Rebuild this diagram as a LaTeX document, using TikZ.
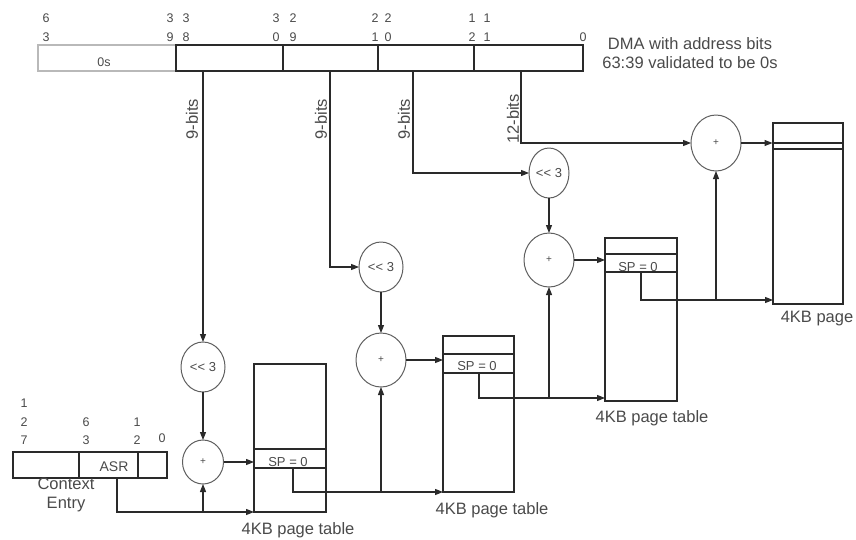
\documentclass[tikz,border=0pt]{standalone}
\usepackage{fontspec}
\setmainfont{Liberation Sans}
\usetikzlibrary{shapes.geometric,arrows.meta}
\definecolor{ln}{HTML}{2A2A2A}
\definecolor{tx}{HTML}{4A4A4A}
\begin{document}
\begin{tikzpicture}[
  x=1pt, y=-1pt,
  lnk/.style={draw=ln, line width=1.1pt},
  arr/.style={lnk, -{Triangle[length=8pt,width=6pt]}},
  fld/.style={draw=ln, line width=1.1pt, rectangle, inner sep=0pt, outer sep=0pt},
  circ/.style={draw=ln!75, line width=1pt, ellipse, inner sep=0pt, outer sep=0pt, text=tx, font=\fontsize{13}{15}\selectfont},
  plus/.style={circ, font=\fontsize{10}{12}\selectfont},
  dig/.style={text=tx, font=\fontsize{12.5}{14}\selectfont, inner sep=0pt},
  lbl/.style={text=tx, font=\fontsize{16.5}{19.5}\selectfont, inner sep=0pt},
  rowtxt/.style={text=tx, font=\fontsize{13}{15}\selectfont}
]
\useasboundingbox (0,0) rectangle (856,539);

% ---------- address bar ----------
\node[fld, draw=gray!55, minimum width=138pt, minimum height=26pt] (zeros) at (107,58) {};
\node[dig] (ztxt) at (104,62) {0s};
\node[fld, minimum width=107pt, minimum height=26pt] (f1) at (229.5,58) {};
\node[fld, minimum width=95pt, minimum height=26pt] (f2) at (330.5,58) {};
\node[fld, minimum width=96pt, minimum height=26pt] (f3) at (426,58) {};
\node[fld, minimum width=109pt, minimum height=26pt] (f4) at (528.5,58) {};

% bit numbers
\foreach \n/\x/\a/\b in {a/46/6/3, b/170/3/9, c/186/3/8, d/276/3/0, e/293/2/9, f/375/2/1, g/388/2/0, h/472/1/2, i/487/1/1}{
  \node[dig] (bu\n) at (\x,18) {\a};
  \node[dig] (bl\n) at (\x,37) {\b};
}
\node[dig] (blz) at (583,37) {0};

\node[lbl, align=center] (dma) at (690,53) {DMA with address bits\\63:39 validated to be 0s};

% start points on the bar
\coordinate (s1) at (203,71);
\coordinate (s2) at (330,71);
\coordinate (s3) at (413,71);
\coordinate (s4) at (521,71);

\node[lbl, rotate=90] (l1) at (192,119) {9-bits};
\node[lbl, rotate=90] (l2) at (321,119) {9-bits};
\node[lbl, rotate=90] (l3) at (404,119) {9-bits};
\node[lbl, rotate=90] (l4) at (513,119) {12-bits};

% ---------- circles ----------
\node[circ, minimum width=44pt, minimum height=50pt] (sh1) at (203,367) {{<}{<} 3};
\node[plus, minimum width=41pt, minimum height=44pt] (pl1) at (203,462) {+};
\node[circ, minimum width=44pt, minimum height=50pt] (sh2) at (381,267) {{<}{<} 3};
\node[plus, minimum width=50pt, minimum height=54pt] (pl2) at (381,360) {+};
\node[circ, minimum width=40pt, minimum height=50pt] (sh3) at (549,173) {{<}{<} 3};
\node[plus, minimum width=50pt, minimum height=54pt] (pl3) at (549,260) {+};
\node[plus, minimum width=50pt, minimum height=56pt] (pl4) at (716,143) {+};

% ---------- context entry ----------
\node[fld, minimum width=66pt, minimum height=26pt] (c1) at (46,465) {};
\node[fld, minimum width=59pt, minimum height=26pt] (asr) at (108.5,465) {};
\node[rowtxt, inner sep=0pt, font=\fontsize{14}{16}\selectfont] (asrt) at (114,467) {ASR};
\node[fld, minimum width=29pt, minimum height=26pt] (c3) at (152.5,465) {};
\node[dig] (ca) at (24,403) {1};
\node[dig] (cb) at (24,422) {2};
\node[dig] (cc) at (24,440) {7};
\node[dig] (cd) at (86,422) {6};
\node[dig] (ce) at (86,440) {3};
\node[dig] (cf) at (137,422) {1};
\node[dig] (cg) at (137,440) {2};
\node[dig] (ch) at (162,438) {0};
\node[lbl, align=center] (ctxl) at (66,495) {Context\\Entry};
\coordinate (a0) at (117,478);

% ---------- page tables ----------
\node[fld, minimum width=72pt, minimum height=148pt] (pt1) at (290,438) {};
\node[fld, minimum width=72pt, minimum height=19pt] (row1) at (290,458.5) {};
\node[rowtxt, inner sep=0pt] (sp1t) at (288,462) {SP = 0};
\node[lbl] (pt1l) at (298,530) {4KB page table};
\coordinate (sp1) at (293,468);

\node[fld, minimum width=71pt, minimum height=156pt] (pt2) at (478.5,414) {};
\node[fld, minimum width=71pt, minimum height=19pt] (row2) at (478.5,363.5) {};
\node[rowtxt, inner sep=0pt] (sp2t) at (477,366) {SP = 0};
\node[lbl] (pt2l) at (492,510) {4KB page table};
\coordinate (sp2) at (479,373);

\node[fld, minimum width=72pt, minimum height=163pt] (pt3) at (641,319.5) {};
\node[fld, line width=1.7pt, minimum width=72pt, minimum height=18pt] (row3) at (641,263) {};
\node[rowtxt, inner sep=0pt] (sp3t) at (638,267) {SP = 0};
\node[lbl] (pt3l) at (652,418) {4KB page table};
\coordinate (sp3) at (641,272);
\coordinate (in3) at (605,398);

\node[fld, minimum width=70pt, minimum height=181pt] (page) at (808,213.5) {};
\node[fld, line width=1.8pt, minimum width=71pt, minimum height=6pt] (strip) at (808,146) {};
\node[lbl] (pagel) at (817,319) {4KB page};
\coordinate (in4) at (773,300);

% ---------- connectors ----------
\draw[arr] (s1) -- (sh1.north);
\draw[arr] (s2) |- (sh2.west);
\draw[arr] (s3) |- (sh3.west);
\draw[arr] (s4) |- (pl4.west);

\draw[arr] (sh1.south) -- (pl1.north);
\draw[arr] (sh2.south) -- (pl2.north);
\draw[arr] (sh3.south) -- (pl3.north);

\draw[arr] (pl1.east) -- (pl1.east -| pt1.west);
\draw[arr] (pl2.east) -- (pl2.east -| pt2.west);
\draw[arr] (pl3.east) -- (pl3.east -| pt3.west);
\draw[arr] (pl4.east) -- (pl4.east -| strip.west);

\draw[arr] (a0) |- (pt1.south west);
\draw[arr] (pl1.south |- pt1.south west) -- (pl1.south);

\draw[arr] (sp1) |- (pt2.south west);
\draw[arr] (pl2.south |- pt2.south west) -- (pl2.south);

\draw[arr] (sp2) |- (in3);
\draw[arr] (pl3.south |- in3) -- (pl3.south);

\draw[arr] (sp3) |- (in4);
\draw[arr] (pl4.south |- in4) -- (pl4.south);
\end{tikzpicture}
\end{document}
